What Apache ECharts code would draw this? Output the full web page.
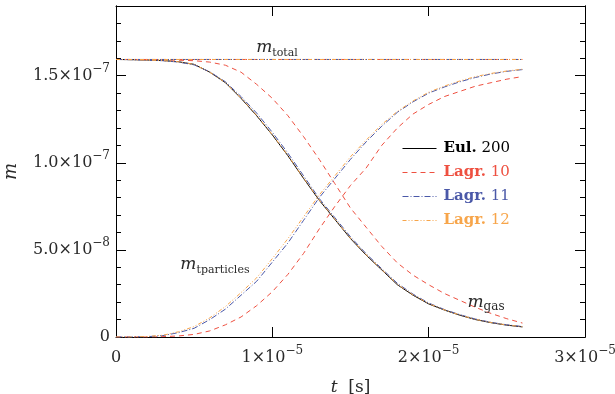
<!DOCTYPE html>
<html>
<head>
<meta charset="utf-8">
<script src="https://cdn.jsdelivr.net/npm/echarts@6/dist/echarts.min.js"></script>
<style>
html, body { margin: 0; padding: 0; background: #fff; }
#main { width: 615px; height: 394px; }
</style>
</head>
<body>
<div id="main"></div>
<script>
// time in units of 1e-6 s, masses in units of 1e-8
const tMicro = [0, 1, 2, 3, 4, 5, 6, 7, 8, 9, 10, 11, 12, 13, 14, 15, 16, 17, 18, 19, 20, 21, 22, 23, 24, 25, 26];
const tEnds = [0, 26];

const gasEul200 = [15.93, 15.92, 15.9, 15.87, 15.8, 15.65, 15.2, 14.6, 13.7, 12.7, 11.6, 10.4, 9.1, 7.85, 6.75, 5.65, 4.7, 3.85, 3.0, 2.4, 1.9, 1.55, 1.25, 1.0, 0.82, 0.68, 0.58];

const gasLagr10 = [15.93, 15.93, 15.92, 15.91, 15.89, 15.86, 15.78, 15.6, 15.2, 14.5, 13.7, 12.7, 11.5, 10.2, 8.8, 7.4, 6.3, 5.2, 4.25, 3.55, 3.0, 2.5, 2.1, 1.7, 1.35, 1.05, 0.8];
const tpLagr10 = [0, 0, 0, 0.02, 0.06, 0.15, 0.35, 0.7, 1.15, 1.8, 2.6, 3.6, 4.8, 6.2, 7.5, 8.7, 9.7, 11.0, 12.0, 12.8, 13.35, 13.8, 14.1, 14.4, 14.6, 14.8, 14.95];
const totLagr10 = [15.93, 15.93];

const gasLagr11 = [15.93, 15.92, 15.89, 15.86, 15.78, 15.62, 15.22, 14.65, 13.8, 12.85, 11.75, 10.55, 9.25, 7.95, 6.85, 5.75, 4.78, 3.92, 3.08, 2.46, 1.95, 1.58, 1.28, 1.03, 0.84, 0.7, 0.6];
const tpLagr11 = [0, 0, 0.02, 0.08, 0.25, 0.5, 1.0, 1.6, 2.4, 3.2, 4.3, 5.4, 6.7, 8.0, 9.1, 10.2, 11.2, 12.1, 12.9, 13.5, 14.0, 14.35, 14.65, 14.9, 15.1, 15.25, 15.35];
const totLagr11 = [15.93, 15.93];

const gasLagr12 = [15.93, 15.92, 15.89, 15.87, 15.8, 15.65, 15.2, 14.6, 13.72, 12.72, 11.62, 10.42, 9.12, 7.87, 6.77, 5.67, 4.72, 3.87, 3.02, 2.42, 1.92, 1.56, 1.26, 1.01, 0.83, 0.69, 0.59];
const tpLagr12 = [0, 0, 0.03, 0.1, 0.3, 0.6, 1.1, 1.75, 2.55, 3.4, 4.5, 5.65, 6.9, 8.15, 9.25, 10.35, 11.3, 12.2, 12.95, 13.55, 14.05, 14.4, 14.7, 14.95, 15.13, 15.27, 15.37];
const totLagr12 = [15.93, 15.93];

const runNames = ['Eul. 200', 'Lagr. 10', 'Lagr. 11', 'Lagr. 12'];
const xTickText = ['0', '1×10^−5', '2×10^−5', '3×10^−5'];
const yTickText = ['0', '5.0×10^−8', '1.0×10^−7', '1.5×10^−7'];

const T_UNIT = 1e-6, M_UNIT = 1e-8;
const serif = 'DejaVu Serif';
const labelColor = '#2a2a2a';

function pairs(ts, ms) {
    return ts.map((t, i) => [t * T_UNIT, ms[i] * M_UNIT]);
}
function sci(s) {
    let p = s.split('^');
    return p.length > 1 ? '{n|' + p[0] + '}{s|' + p[1] + '}' : '{n|' + p[0] + '}';
}
function tickFormatter(list, step) {
    return function (v) {
        let i = Math.round(v / step);
        if (Math.abs(v - i * step) > step * 1e-6 || i >= list.length) return '';
        return sci(list[i]);
    };
}
const sciRich = {
    n: { fontFamily: serif, fontSize: 16, lineHeight: 26, color: labelColor },
    s: { fontFamily: serif, fontSize: 12, verticalAlign: 'top', color: labelColor }
};
const noteRich = {
    m: { fontFamily: serif, fontStyle: 'italic', fontSize: 17, lineHeight: 22, color: labelColor },
    sub: { fontFamily: serif, fontSize: 11, verticalAlign: 'bottom', color: labelColor },
    subg: { fontFamily: serif, fontSize: 12, verticalAlign: 'bottom', color: labelColor }
};

const colors = ['#000000', '#ee5040', '#4a58a8', '#f7a54a'];
const dashes = ['solid', [5, 4], [6, 2, 1, 2], [4, 2, 1, 2, 1, 2]];

function line(name, idx, data, extra) {
    return Object.assign({
        name: name,
        type: 'line',
        data: data,
        symbol: 'none',
        smooth: false,
        animation: false,
        color: colors[idx],
        lineStyle: { width: 1, color: colors[idx], type: dashes[idx] },
        z: 2
    }, extra || {});
}

const axisLineStyle = { show: true, onZero: false, lineStyle: { color: '#000', width: 1 } };

let chart = echarts.init(document.getElementById('main'));
chart.setOption({
    animation: false,
    backgroundColor: '#fff',
    grid: { left: 116, right: 30, top: 6, bottom: 57, containLabel: false, outerBoundsMode: 'none' },
    legend: {
        orient: 'vertical',
        left: 397,
        top: 136,
        itemWidth: 34,
        itemHeight: 14,
        itemGap: 9,
        itemStyle: { opacity: 0 },
        lineStyle: { width: 1 },
        data: runNames.map((n, i) => ({ name: n, textStyle: { color: colors[i] } })),
        formatter: function (name) {
            let k = name.lastIndexOf(' ');
            return '{b|' + name.slice(0, k) + '} ' + name.slice(k + 1);
        },
        textStyle: {
            fontFamily: serif,
            fontSize: 15,
            lineHeight: 15,
            padding: [0, 0, 0, 2],
            rich: { b: { fontFamily: serif, fontSize: 15, fontWeight: 'bold' } }
        }
    },
    xAxis: [
        {
            type: 'value', min: 0, max: 3e-5, interval: 1e-5, position: 'bottom',
            axisLine: axisLineStyle,
            axisTick: { inside: true, length: 10, lineStyle: { color: '#000' } },
            axisLabel: { margin: 8, formatter: tickFormatter(xTickText, 1e-5), rich: sciRich },
            splitLine: { show: false },
            name: '{i|t}  [s]',
            nameLocation: 'middle',
            nameGap: 42,
            nameTextStyle: {
                fontFamily: serif, fontSize: 17, color: labelColor,
                rich: { i: { fontFamily: serif, fontStyle: 'italic', fontSize: 17, color: labelColor } }
            }
        },
        {
            type: 'value', min: 0, max: 3e-5, interval: 1e-5, position: 'top',
            axisLine: axisLineStyle,
            axisTick: { inside: true, length: 10, lineStyle: { color: '#000' } },
            axisLabel: { show: false },
            splitLine: { show: false }
        }
    ],
    yAxis: [
        {
            type: 'value', min: 0, max: 1.9e-7, interval: 5e-8, position: 'left',
            axisLine: axisLineStyle,
            axisTick: { inside: true, length: 10, lineStyle: { color: '#000' } },
            axisLabel: { margin: 6, formatter: tickFormatter(yTickText, 5e-8), rich: sciRich },
            splitLine: { show: false },
            name: 'm',
            nameLocation: 'middle',
            nameGap: 96,
            nameTextStyle: { fontFamily: serif, fontStyle: 'italic', fontSize: 18, color: labelColor }
        },
        {
            type: 'value', min: 0, max: 1.9e-7, interval: 1e-8, position: 'left',
            axisLine: axisLineStyle,
            axisTick: { inside: true, length: 5, lineStyle: { color: '#000' } },
            axisLabel: { show: false },
            splitLine: { show: false }
        },
        {
            type: 'value', min: 0, max: 1.9e-7, interval: 5e-8, position: 'right',
            axisLine: axisLineStyle,
            axisTick: { inside: true, length: 10, lineStyle: { color: '#000' } },
            axisLabel: { show: false },
            splitLine: { show: false }
        },
        {
            type: 'value', min: 0, max: 1.9e-7, interval: 1e-8, position: 'right',
            axisLine: axisLineStyle,
            axisTick: { inside: true, length: 5, lineStyle: { color: '#000' } },
            axisLabel: { show: false },
            splitLine: { show: false }
        }
    ],
    series: [
        line(runNames[0], 0, pairs(tMicro, gasEul200), {
            markPoint: {
                symbol: 'circle',
                symbolSize: 0,
                silent: true,
                label: { show: true, position: 'inside', rich: noteRich },
                data: [
                    { coord: [10.3e-6, 1.663e-7], label: { formatter: '{m|m}{sub|total}', rich: noteRich } },
                    { coord: [6.33e-6, 0.414e-7], label: { formatter: '{m|m}{sub|tparticles}', rich: noteRich } },
                    { coord: [23.67e-6, 0.2e-7], label: { formatter: '{m|m}{subg|gas}', rich: noteRich } }
                ]
            }
        }),
        line(runNames[1], 1, pairs(tMicro, gasLagr10)),
        line(runNames[1], 1, pairs(tMicro, tpLagr10)),
        line(runNames[1], 1, pairs(tEnds, totLagr10)),
        line(runNames[2], 2, pairs(tMicro, gasLagr11)),
        line(runNames[2], 2, pairs(tMicro, tpLagr11)),
        line(runNames[2], 2, pairs(tEnds, totLagr11)),
        line(runNames[3], 3, pairs(tMicro, gasLagr12)),
        line(runNames[3], 3, pairs(tMicro, tpLagr12)),
        line(runNames[3], 3, pairs(tEnds, totLagr12))
    ]
});
</script>
</body>
</html>
